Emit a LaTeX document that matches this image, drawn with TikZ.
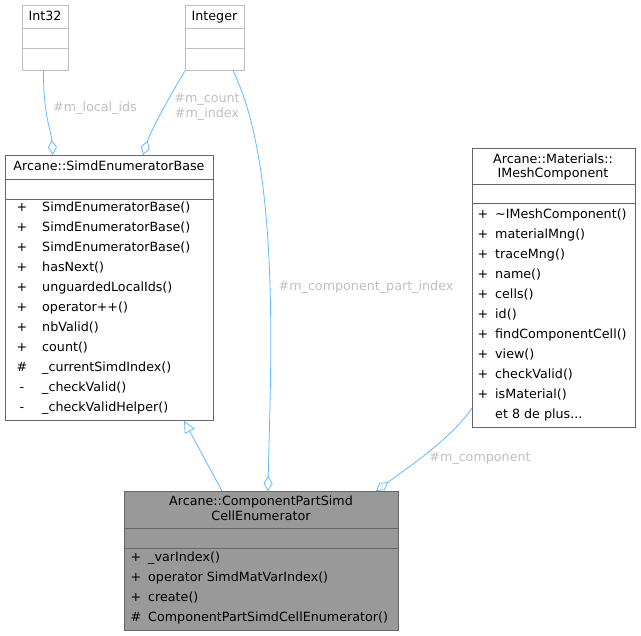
\documentclass[tikz,border=0pt]{standalone}
\usepackage{fontspec}
\setmainfont{DejaVu Sans}
\usetikzlibrary{arrows.meta}
\definecolor{edgeblue}{HTML}{63B8FF}
\definecolor{lblgray}{HTML}{BFBFBF}
\definecolor{extgray}{HTML}{BFBFBF}
\definecolor{bordergray}{HTML}{666666}
\definecolor{fillgray}{HTML}{999999}

\begin{document}
\begin{tikzpicture}[x=1pt,y=-1pt,font=\fontsize{12.7}{15}\selectfont,
  cls/.style={draw=bordergray,line width=0.8pt,inner sep=0pt,anchor=north west},
  ext/.style={cls,draw=extgray},
  txt/.style={inner sep=0pt,anchor=base},
  mem/.style={inner sep=0pt,anchor=base west},
  lbl/.style={inner sep=0pt,text=lblgray},
  aggr/.style={draw=edgeblue,line width=0.8pt,-{Diamond[open,length=15pt,width=9pt]}},
  inh/.style={draw=edgeblue,line width=0.8pt,-{Triangle[open,length=12pt,width=11pt]}}]
  \useasboundingbox (0,0) rectangle (641,636);
  \node[ext,minimum width=46pt,minimum height=65pt] (int32) at (22,5) {};
  \node[ext,minimum width=59pt,minimum height=65pt] (integer) at (185,5) {};
  \node[cls,minimum width=208pt,minimum height=265pt] (base) at (5,155) {};
  \node[cls,minimum width=163pt,minimum height=279pt] (imesh) at (472,148) {};
  \node[cls,fill=fillgray,minimum width=274pt,minimum height=139pt] (cpsce) at (124,491) {};
  \foreach \b/\s/\t/\c in {int32/23/43/extgray,integer/23/43/extgray,base/24/44/bordergray,imesh/36/55/bordergray,cpsce/37/57/bordergray}
    \draw[\c,line width=0.8pt] ([yshift=-\s pt]\b.north west) -- ([yshift=-\s pt]\b.north east)
      ([yshift=-\t pt]\b.north west) -- ([yshift=-\t pt]\b.north east);

  \node[txt] (int32t) at (45,21) {Int32};
  \node[txt] (integert) at (214.5,21) {Integer};
  \node[txt] (baset) at (109,171) {Arcane::SimdEnumeratorBase};
  \node[txt] (imesht) at (553,164) {Arcane::Materials::};
  \node[txt] (imeshu) at (553,178) {IMeshComponent};
  \node[txt] (cpscet) at (261,506) {Arcane::ComponentPartSimd};
  \node[txt] (cpsceu) at (261,521) {CellEnumerator};

  \foreach \v/\m [count=\i from 0] in {+/SimdEnumeratorBase(),+/SimdEnumeratorBase(),+/SimdEnumeratorBase(),+/hasNext(),+/unguardedLocalIds(),+/operator++(),+/nbValid(),+/count(),\#/\_currentSimdIndex(),-/\_checkValid(),-/\_checkValidHelper()}
  {
    \node[txt] (basev\i) at (22,212+20*\i) {\v};
    \node[mem] (basem\i) at (42,212+20*\i) {\m};
  }
  \foreach \v/\m [count=\i from 0] in {+/\textasciitilde IMeshComponent(),+/materialMng(),+/traceMng(),+/name(),+/cells(),+/id(),+/findComponentCell(),+/view(),+/checkValid(),+/isMaterial()}
  {
    \node[txt] (imeshv\i) at (483,219+20*\i) {\v};
    \node[mem] (imeshm\i) at (495,219+20*\i) {\m};
  }
  \node[mem] (imeshmore) at (495,419) {et 8 de plus...};
  \foreach \v/\m [count=\i from 0] in {+/\_varIndex(),+/operator SimdMatVarIndex(),+/create(),\#/ComponentPartSimdCellEnumerator()}
  {
    \node[txt] (cpscev\i) at (136,562+20*\i) {\v};
    \node[mem] (cpscem\i) at (148,562+20*\i) {\m};
  }

  \draw[aggr] ([xshift=-2pt]int32.south) .. controls +(0,45) and +(-2,-25) .. ([xshift=48pt]base.north west);
  \draw[aggr] (integer.south west) .. controls +(-15,25) and +(8,-25) .. ([xshift=138pt]base.north west);
  \draw[aggr] ([xshift=48pt]integer.south west) .. controls (282,170) and (270,380) .. ([xshift=144pt]cpsce.north west);
  \draw[inh] ([xshift=98pt]cpsce.north west) -- ([xshift=179pt]base.south west);
  \draw[aggr] ([yshift=-260pt]imesh.north west) .. controls +(-20,30) and +(30,-22) .. ([xshift=252pt]cpsce.north west);

  \node[lbl] (lidl) at (95,108) {\#m\_local\_ids};
  \node[lbl,align=center] (cntl) at (207,107) {\#m\_count\\\#m\_index};
  \node[lbl] (cpil) at (366,287) {\#m\_component\_part\_index};
  \node[lbl] (compl) at (480,458) {\#m\_component};
\end{tikzpicture}
\end{document}
